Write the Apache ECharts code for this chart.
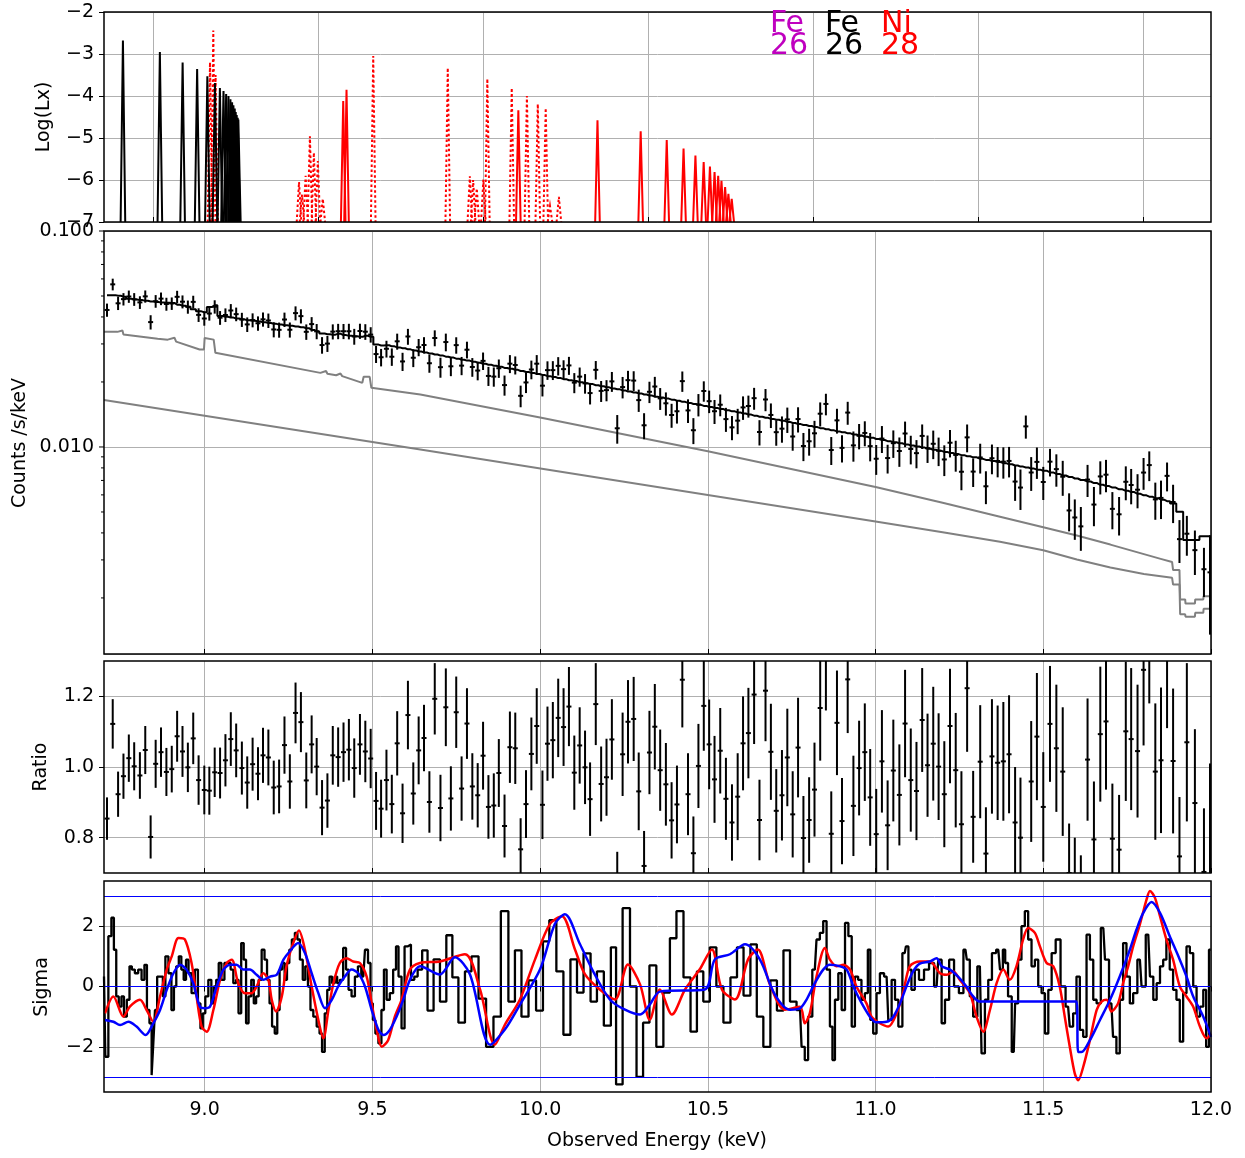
<!DOCTYPE html>
<html>
<head>
<meta charset="utf-8">
<script src="https://cdn.jsdelivr.net/npm/echarts@6/dist/echarts.min.js"></script>
<style>
  html, body { margin: 0; padding: 0; background: #fff; }
  #chart { width: 1245px; height: 1158px; }
</style>
</head>
<body>
<div id="chart"></div>
<script>
// ---------------- axis ranges and tick values ----------------
const energyRange = [8.7, 12.0];          // observed energy (keV)
const restRange = [8.8496, 12.2064];      // rest-frame energy for the line panel
const energyTicks = [9.0, 9.5, 10.0, 10.5, 11.0, 11.5, 12.0];
const lxRange = [-7, -2];
const lxTicks = [-7, -6, -5, -4, -3, -2];
const countRange = [0.0011, 0.1];
const countMajorTicks = [0.01, 0.1];
const countMinorTicks = [0.002, 0.003, 0.004, 0.005, 0.006, 0.007, 0.008, 0.009,
                         0.02, 0.03, 0.04, 0.05, 0.06, 0.07, 0.08, 0.09];
const ratioRange = [0.7, 1.3];
const ratioTicks = [0.8, 1.0, 1.2];
const sigmaRange = [-3.5, 3.5];
const sigmaTicks = [-2, 0, 2];
const sigmaLevels = [-3, 0, 3];

// ---------------- line emissivities, log10(Lx) peak per transition (rest keV) ----------------
const fe26Lines = [
  [8.907, -2.68], [9.019, -2.95], [9.088, -3.20], [9.132, -3.36], [9.163, -3.53],
  [9.186, -3.69], [9.201, -3.81], [9.212, -3.88], [9.220, -3.95], [9.227, -4.00],
  [9.233, -4.08], [9.238, -4.15], [9.242, -4.22], [9.246, -4.30], [9.249, -4.38],
  [9.252, -4.45], [9.255, -4.52], [9.257, -4.56]
];
const ni28Lines = [
  [9.575, -4.12], [9.585, -3.85], [10.106, -4.34], [10.346, -4.58], [10.477, -4.84],
  [10.556, -5.05], [10.607, -5.25], [10.643, -5.42], [10.668, -5.57], [10.687, -5.68],
  [10.701, -5.81], [10.712, -5.90], [10.722, -6.02], [10.733, -6.17], [10.743, -6.33],
  [10.753, -6.45]
];
const ni28SatLines = [
  [9.171, -3.20], [9.181, -2.44], [9.188, -3.50],
  [9.441, -6.05], [9.450, -6.35], [9.461, -5.90], [9.474, -4.96], [9.486, -5.35],
  [9.498, -5.55], [9.513, -6.45], [9.666, -3.05], [9.892, -3.33], [9.959, -5.91],
  [9.969, -6.00], [9.980, -6.20], [10.000, -5.99], [10.012, -3.59], [10.086, -3.81],
  [10.132, -4.00], [10.165, -4.19], [10.189, -4.29], [10.202, -6.62], [10.229, -6.40]
];

// ---------------- spectral bins (observed keV) ----------------
const binEnergy = [
  8.709,8.726,8.742,8.758,8.774,8.790,8.807,8.823,8.839,8.854,
  8.870,8.886,8.902,8.918,8.934,8.950,8.966,8.982,8.999,9.014,
  9.030,9.046,9.062,9.078,9.094,9.111,9.127,9.143,9.159,9.174,
  9.190,9.206,9.222,9.238,9.254,9.271,9.287,9.303,9.319,9.334,
  9.350,9.366,9.382,9.398,9.414,9.430,9.446,9.463,9.479,9.495,
  9.511,9.526,
  9.542,9.558,9.574,9.590,9.606,9.622,9.638,9.654,9.670,9.686,
  9.703,9.719,9.734,9.750,9.766,9.782,9.798,9.814,9.830,9.846,
  9.862,9.877,9.894,9.910,9.926,9.942,9.958,9.974,9.990,10.007,
  10.022,10.038,10.054,10.070,10.086,10.102,10.118,10.134,10.149,10.166,
  10.182,10.198,10.214,10.230,10.246,10.262,10.279,10.294,10.310,10.326,
  10.342,10.358,
  10.375,10.392,10.408,10.424,10.441,10.457,10.472,10.488,10.504,10.520,
  10.537,10.554,10.572,10.589,10.605,10.621,10.638,10.654,10.672,10.688,
  10.704,10.721,10.737,10.753,10.769,10.785,10.802,10.818,10.835,10.852,
  10.868,10.885,10.900,10.917,10.934,10.951,10.968,10.984,11.002,11.019,
  11.036,11.053,11.071,11.088,11.105,11.122,11.139,11.155,11.172,11.188,
  11.205,11.222,11.239,11.256,11.273,11.291,11.312,11.329,11.347,11.364,
  11.381,11.398,11.416,11.432,11.448,11.464,11.481,11.500,11.520,11.539,
  11.558,11.577,11.594,11.612,11.632,11.651,11.670,11.687,11.706,11.726,
  11.746,11.762,11.781,11.799,11.816,11.834,11.851,11.869,11.887,11.906,
  11.928,11.952,11.979,11.997
];

// data / model ratio per bin and its 1-sigma error
const ratio = [
  0.854,1.122,0.923,0.974,1.025,1.002,0.976,1.048,0.802,1.009,
  1.042,0.986,0.994,1.087,1.044,0.999,1.081,0.963,0.935,0.933,
  0.985,0.983,1.019,1.079,1.047,0.997,0.956,1.008,0.981,1.033,
  1.027,0.942,0.945,1.062,0.959,1.153,1.127,0.962,1.064,1.001,
  0.885,0.905,1.033,1.028,1.042,1.049,0.997,1.064,1.044,1.024,
  0.904,0.882,
  0.963,0.895,1.067,0.869,1.147,0.925,1.047,1.082,0.901,1.193,
  0.884,1.169,0.911,1.155,0.939,1.123,0.945,0.920,1.032,0.887,
  0.891,0.983,0.833,1.056,1.053,0.767,0.895,1.037,1.116,0.893,
  1.066,1.076,1.139,1.113,1.171,0.984,1.061,0.999,0.909,1.178,
  0.952,0.971,1.078,0.660,1.036,1.128,1.136,0.931,0.720,1.041,
  1.114,0.991,
  0.951,0.849,0.894,1.247,0.923,0.756,1.003,1.173,1.064,0.965,
  1.046,0.910,0.843,0.916,1.067,1.096,1.205,0.850,1.216,1.043,
  0.876,0.920,1.027,0.866,1.055,0.799,0.850,0.936,1.167,1.310,
  0.811,1.125,0.847,1.248,0.890,0.997,1.042,0.914,0.810,1.016,
  0.835,0.990,0.921,1.123,0.963,0.932,1.133,1.005,1.066,1.001,
  0.923,1.116,0.991,0.838,1.223,0.859,1.015,0.755,1.030,1.012,
  1.016,1.036,0.843,0.800,1.550,0.959,1.086,0.887,1.122,1.053,
  0.987,0.700,0.660,0.610,1.021,0.795,1.093,1.129,0.797,0.766,
  1.101,1.079,1.045,1.275,1.400,0.987,1.019,1.310,1.017,0.747,
  1.070,0.898,0.703,0.680
];
const ratioErr = [
  0.060,0.070,0.064,0.064,0.067,0.068,0.066,0.068,0.061,0.068,
  0.070,0.068,0.066,0.072,0.072,0.070,0.073,0.070,0.069,0.068,
  0.070,0.072,0.074,0.076,0.076,0.075,0.074,0.075,0.075,0.078,
  0.079,0.076,0.076,0.081,0.077,0.086,0.085,0.079,0.082,0.081,
  0.078,0.077,0.083,0.084,0.084,0.087,0.084,0.086,0.087,0.084,
  0.082,0.082,
  0.086,0.083,0.091,0.084,0.097,0.088,0.096,0.094,0.087,0.101,
  0.094,0.110,0.091,0.101,0.091,0.100,0.094,0.091,0.096,0.090,
  0.091,0.096,0.089,0.101,0.101,0.088,0.096,0.103,0.107,0.097,
  0.105,0.108,0.111,0.110,0.112,0.105,0.108,0.104,0.104,0.116,
  0.106,0.109,0.114,0.100,0.118,0.118,0.119,0.110,0.099,0.118,
  0.121,0.115,
  0.117,0.108,0.110,0.135,0.116,0.104,0.119,0.127,0.127,0.123,
  0.121,0.116,0.108,0.123,0.133,0.128,0.140,0.114,0.143,0.136,
  0.118,0.128,0.138,0.122,0.141,0.119,0.121,0.133,0.149,0.150,
  0.120,0.148,0.122,0.152,0.142,0.134,0.138,0.137,0.128,0.145,
  0.127,0.144,0.143,0.152,0.146,0.139,0.147,0.146,0.161,0.151,
  0.150,0.162,0.162,0.150,0.180,0.130,0.160,0.131,0.162,0.162,
  0.168,0.167,0.157,0.170,0.190,0.171,0.180,0.155,0.164,0.180,
  0.182,0.140,0.140,0.140,0.173,0.164,0.191,0.193,0.156,0.155,
  0.197,0.201,0.188,0.214,0.220,0.193,0.206,0.200,0.205,0.168,
  0.224,0.209,0.180,0.330
];

// folded total model per bin, log10(counts/s/keV)
const modelLog = [
  -1.297,-1.297,-1.300,-1.304,-1.314,-1.317,-1.320,-1.323,-1.326,-1.329,
  -1.331,-1.332,-1.333,-1.341,-1.346,-1.351,-1.362,-1.372,-1.376,-1.352,
  -1.344,-1.394,-1.397,-1.401,-1.405,-1.409,-1.413,-1.416,-1.419,-1.423,
  -1.426,-1.430,-1.433,-1.436,-1.439,-1.442,-1.446,-1.450,-1.458,-1.465,
  -1.475,-1.478,-1.480,-1.476,-1.482,-1.485,-1.487,-1.490,-1.485,-1.490,
  -1.526,-1.530,
  -1.529,-1.534,-1.539,-1.543,-1.548,-1.553,-1.558,-1.562,-1.567,-1.572,
  -1.577,-1.582,-1.586,-1.591,-1.596,-1.600,-1.605,-1.610,-1.615,-1.619,
  -1.624,-1.628,-1.634,-1.638,-1.643,-1.648,-1.653,-1.657,-1.662,-1.667,
  -1.672,-1.676,-1.681,-1.686,-1.691,-1.695,-1.700,-1.705,-1.709,-1.714,
  -1.719,-1.724,-1.729,-1.733,-1.738,-1.743,-1.748,-1.752,-1.757,-1.762,
  -1.767,-1.771,
  -1.776,-1.781,-1.786,-1.791,-1.796,-1.801,-1.805,-1.810,-1.815,-1.819,
  -1.824,-1.830,-1.835,-1.840,-1.845,-1.850,-1.855,-1.860,-1.865,-1.870,
  -1.874,-1.879,-1.884,-1.889,-1.894,-1.898,-1.903,-1.908,-1.913,-1.918,
  -1.923,-1.928,-1.932,-1.937,-1.942,-1.947,-1.953,-1.957,-1.963,-1.968,
  -1.973,-1.978,-1.983,-1.988,-1.993,-1.998,-2.003,-2.008,-2.013,-2.018,
  -2.023,-2.028,-2.033,-2.038,-2.043,-2.048,-2.055,-2.060,-2.065,-2.070,
  -2.075,-2.080,-2.086,-2.091,-2.095,-2.100,-2.105,-2.110,-2.118,-2.125,
  -2.132,-2.139,-2.146,-2.153,-2.160,-2.167,-2.175,-2.181,-2.188,-2.196,
  -2.203,-2.209,-2.217,-2.224,-2.230,-2.237,-2.244,-2.251,-2.262,-2.300,
  -2.431,-2.431,-2.413,-2.413
];

// model components, [keV, log10(counts/s/keV)]
const componentUpper = [
  [8.700,-1.467],[8.740,-1.467],[8.742,-1.461],[8.755,-1.461],[8.758,-1.479],
  [8.860,-1.499],[8.890,-1.503],[8.895,-1.494],[8.910,-1.494],[8.915,-1.512],
  [8.985,-1.549],[8.998,-1.549],[9.000,-1.495],[9.027,-1.503],[9.032,-1.564],
  [9.345,-1.657],[9.350,-1.648],[9.362,-1.648],[9.366,-1.661],[9.392,-1.668],
  [9.396,-1.660],[9.405,-1.660],[9.410,-1.672],[9.470,-1.703],[9.474,-1.675],
  [9.492,-1.675],[9.497,-1.726],[9.643,-1.757],[10.000,-1.864],[10.500,-2.020],
  [11.000,-2.185],[11.200,-2.258],[11.371,-2.323],[11.500,-2.372],[11.600,-2.410],
  [11.700,-2.452],[11.800,-2.496],[11.850,-2.518],[11.884,-2.533],
  [11.887,-2.570],[11.906,-2.570],[11.908,-2.706],[11.923,-2.706],[11.924,-2.725],
  [11.952,-2.725],[11.953,-2.706],[11.977,-2.706],[11.978,-2.691],[12.000,-2.691]
];
const componentLower = [
  [8.700,-1.783],[9.643,-2.012],[10.500,-2.222],[11.000,-2.345],[11.200,-2.395],
  [11.371,-2.439],[11.500,-2.478],[11.600,-2.521],[11.700,-2.558],[11.800,-2.588],
  [11.884,-2.606],[11.887,-2.637],[11.906,-2.637],[11.908,-2.775],[11.923,-2.775],
  [11.924,-2.786],[11.952,-2.786],[11.953,-2.768],[11.977,-2.768],[11.978,-2.749],
  [12.000,-2.749]
];

// ---------------- significance traces, [keV, sigma] ----------------
const sigmaFine = [
  [8.700,0.33],[8.708,-2.33],[8.718,1.67],[8.726,2.28],[8.733,1.22],[8.740,-0.33],[8.748,-0.67],
  [8.756,-0.33],[8.763,-1.00],[8.773,-0.44],[8.779,0.67],[8.787,0.56],[8.797,0.44],[8.807,0.56],
  [8.817,0.22],[8.824,0.72],[8.832,-0.78],[8.839,-1.22],[8.845,-2.94],[8.849,-1.89],[8.855,-0.78],
  [8.862,0.33],[8.872,0.33],[8.879,-0.33],[8.887,1.00],[8.897,0.44],[8.905,-0.78],[8.912,0.00],
  [8.919,0.67],[8.927,1.00],[8.934,0.56],[8.941,0.22],[8.948,0.89],[8.956,0.44],[8.966,-0.22],
  [8.976,0.56],[8.984,-0.56],[8.991,-1.39],[8.998,-0.89],[9.006,-0.33],[9.016,0.22],[9.024,-0.56],
  [9.031,0.00],[9.038,0.22],[9.046,0.78],[9.054,0.22],[9.064,0.78],[9.074,0.78],[9.081,0.56],
  [9.090,0.11],[9.097,0.22],[9.105,-0.89],[9.113,1.44],[9.120,0.89],[9.127,-1.22],[9.135,-0.33],
  [9.143,0.22],[9.150,-0.56],[9.157,-0.33],[9.165,0.22],[9.175,1.22],[9.182,0.89],[9.190,0.22],
  [9.197,-0.56],[9.205,-1.33],[9.213,-1.56],[9.220,-0.78],[9.227,0.56],[9.235,0.78],[9.242,0.22],
  [9.249,0.78],[9.256,1.22],[9.264,1.56],[9.274,1.78],[9.279,1.56],[9.289,0.89],[9.296,0.22],
  [9.304,0.67],[9.312,0.00],[9.319,-0.78],[9.329,-1.00],[9.339,-1.33],[9.346,-1.56],[9.354,-2.17],
  [9.362,-0.89],[9.369,-0.11],[9.376,0.33],[9.384,0.11],[9.392,0.33],[9.398,0.11],[9.408,0.22],
  [9.418,1.28],[9.425,0.56],[9.433,-0.11],[9.443,-0.33],[9.453,0.33],[9.461,0.67],[9.473,0.33],
  [9.483,1.22],[9.491,0.78],[9.498,-0.56],[9.505,-1.11],[9.513,-1.56],[9.523,-1.89],[9.531,-0.78],
  [9.538,0.56],[9.547,-0.44],[9.557,-0.22],[9.567,0.56],[9.574,1.33],[9.582,0.33],[9.592,-1.39],
  [9.600,1.33],[9.610,1.39],[9.620,0.22],[9.630,0.33],[9.640,0.56],
  [9.657,1.20],[9.672,-0.80],[9.693,0.90],[9.710,-0.50],[9.731,1.70],[9.746,0.30],[9.767,-1.20],
  [9.785,0.50],[9.806,1.00],[9.827,-0.40],[9.851,-2.00],[9.871,-1.00],[9.895,2.50],[9.916,-0.50],
  [9.934,1.20],[9.955,-1.00],[9.976,0.20],[10.000,-0.80],[10.017,1.50],[10.038,2.20],[10.059,0.50],
  [10.080,-1.60],[10.101,0.90],[10.119,-0.20],[10.140,1.10],[10.161,-0.50],[10.178,0.50],
  [10.202,-1.30],[10.220,1.30],[10.233,-3.25],[10.259,2.60],[10.277,0.00],[10.298,-3.00],
  [10.316,-1.20],[10.336,0.70],[10.357,-2.00],[10.378,-0.20],[10.396,1.60],[10.417,2.50],
  [10.438,0.30],[10.459,-1.50],[10.476,0.50],[10.497,-0.50],[10.515,1.30],[10.536,0.00],
  [10.557,-1.20],[10.578,0.30],[10.596,1.30],[10.617,-0.30],[10.637,1.40],[10.655,-1.00],
  [10.676,-2.00],[10.697,0.20],[10.715,-0.80],[10.736,1.20],[10.754,-0.50],
  [10.775,-0.78],[10.784,-2.00],[10.794,-2.44],[10.804,-1.00],[10.819,0.56],[10.829,1.56],
  [10.839,1.78],[10.849,2.17],[10.859,0.56],[10.869,-1.33],[10.874,-2.44],[10.884,-0.44],
  [10.894,0.44],[10.904,-0.78],[10.914,2.11],[10.924,1.67],[10.934,-1.33],[10.943,0.33],
  [10.953,0.22],[10.963,-0.44],[10.973,-0.22],[10.981,1.22],[10.988,-1.11],[10.998,-1.56],
  [11.008,-0.22],[11.018,0.44],[11.033,0.33],[11.043,-1.11],[11.053,0.22],[11.063,-0.44],
  [11.073,-1.33],[11.087,1.11],[11.094,1.33],[11.102,0.56],[11.112,-0.11],[11.122,0.56],
  [11.137,0.22],[11.152,0.56],[11.167,0.78],[11.182,0.00],[11.192,0.89],[11.202,-1.22],
  [11.212,-0.44],[11.227,0.89],[11.241,0.00],[11.256,-0.22],[11.268,1.22],[11.276,0.89],
  [11.286,-0.33],[11.296,-1.00],[11.311,0.67],[11.321,-2.22],[11.331,-0.44],[11.341,0.22],
  [11.353,1.11],[11.366,1.22],[11.376,0.56],[11.383,1.22],[11.390,0.78],[11.400,-0.33],
  [11.412,-2.17],[11.420,-0.56],[11.430,0.89],[11.440,2.00],[11.450,2.50],[11.460,1.56],
  [11.470,0.67],[11.480,0.89],[11.490,0.00],[11.500,-0.22],[11.510,-1.56],[11.520,-0.11],
  [11.530,1.11],[11.544,1.56],[11.559,0.00],[11.574,-0.67],[11.584,-1.33],[11.594,-0.89],
  [11.604,0.33],[11.614,-1.44],[11.624,-1.67],[11.634,1.72],[11.644,0.89],[11.654,-0.44],
  [11.664,-0.56],[11.679,1.94],[11.689,0.89],[11.703,-0.56],[11.713,-1.67],[11.723,-2.22],
  [11.733,-0.44],[11.743,1.44],[11.753,0.33],[11.763,-0.56],[11.773,-0.22],[11.788,0.89],
  [11.798,0.00],[11.813,1.72],[11.823,0.33],[11.833,-0.44],[11.843,0.11],[11.853,0.67],
  [11.862,0.89],[11.872,1.56],[11.882,0.56],[11.892,-0.11],[11.902,-0.44],[11.912,-1.83],
  [11.922,-0.22],[11.932,1.33],[11.942,1.11],[11.952,0.00],[11.962,-1.00],[11.972,-0.67],
  [11.982,-0.11],[11.989,-2.00],[11.999,1.22]
];
const sigmaRed = [
  [8.703,-0.89],[8.728,-0.33],[8.758,-1.00],[8.777,-0.67],[8.807,-0.44],[8.827,-0.78],
  [8.847,-1.17],[8.867,-0.33],[8.887,0.56],[8.902,1.00],[8.922,1.61],[8.941,1.56],[8.961,0.78],
  [8.976,-0.33],[8.991,-1.33],[9.006,-1.50],[9.026,-0.78],[9.046,0.22],[9.066,0.78],[9.081,0.89],
  [9.100,0.11],[9.120,-0.22],[9.140,-0.22],[9.155,0.00],[9.175,0.44],[9.190,0.22],[9.200,-0.44],
  [9.213,-0.83],[9.230,-0.33],[9.244,0.67],[9.264,1.44],[9.281,1.86],[9.299,1.22],[9.319,0.00],
  [9.339,-1.11],[9.354,-1.72],[9.369,-0.78],[9.384,0.11],[9.403,0.78],[9.423,0.94],[9.443,0.83],
  [9.463,0.78],[9.483,0.33],[9.498,-0.56],[9.513,-1.44],[9.528,-2.00],[9.547,-1.78],[9.567,-1.00],
  [9.587,-0.44],[9.612,0.56],[9.642,0.78],[9.701,0.83],[9.776,1.07],[9.821,-0.10],[9.865,-1.93],
  [9.895,-1.27],[9.940,-0.43],[9.985,0.90],[10.029,2.07],[10.065,2.33],[10.104,1.23],
  [10.134,0.40],[10.178,-0.10],[10.223,-0.43],[10.262,0.73],[10.298,0.07],[10.327,-1.10],
  [10.357,-0.10],[10.393,-0.93],[10.432,-0.10],[10.476,0.57],[10.512,1.23],[10.542,-0.10],
  [10.581,-0.43],[10.620,0.90],[10.649,1.23],[10.685,0.07],[10.730,-0.77],[10.775,-0.67],
  [10.789,-1.22],[10.804,-0.89],[10.824,0.33],[10.849,1.28],[10.864,0.89],[10.884,0.67],
  [10.904,0.72],[10.924,0.56],[10.943,0.00],[10.973,-0.56],[10.988,-1.00],[11.013,-1.22],
  [11.038,-1.33],[11.063,-0.89],[11.082,-0.22],[11.102,0.67],[11.132,0.83],[11.162,0.83],
  [11.192,0.44],[11.212,0.39],[11.232,0.50],[11.251,0.22],[11.281,-0.22],[11.301,-1.00],
  [11.321,-1.50],[11.341,-0.78],[11.361,0.11],[11.381,0.56],[11.400,0.22],[11.420,0.67],
  [11.440,1.56],[11.455,1.94],[11.475,1.78],[11.490,1.33],[11.510,0.78],[11.530,0.67],
  [11.549,0.00],[11.564,-1.00],[11.579,-2.00],[11.594,-2.89],[11.604,-3.11],[11.619,-2.67],
  [11.639,-1.78],[11.659,-0.78],[11.674,-0.50],[11.689,-0.44],[11.703,-0.83],[11.723,-0.56],
  [11.738,0.11],[11.753,0.67],[11.768,1.33],[11.788,2.06],[11.808,2.89],[11.818,3.17],
  [11.833,2.94],[11.848,2.33],[11.867,1.56],[11.887,0.89],[11.907,0.00],[11.927,-0.33],
  [11.947,-0.67],[11.967,-1.33],[11.987,-1.72],[12.000,-1.56]
];
const sigmaBlue = [
  [8.703,-1.11],[8.728,-1.17],[8.748,-1.28],[8.773,-1.17],[8.797,-1.33],[8.824,-1.61],
  [8.847,-1.22],[8.867,-0.78],[8.887,-0.11],[8.907,0.44],[8.927,0.72],[8.946,0.56],[8.966,0.11],
  [8.986,-0.67],[9.001,-0.72],[9.016,-0.67],[9.036,0.00],[9.056,0.56],[9.076,0.72],[9.095,0.72],
  [9.115,0.56],[9.135,0.56],[9.155,0.39],[9.175,0.22],[9.195,0.33],[9.215,0.39],[9.235,0.89],
  [9.254,1.17],[9.279,1.44],[9.299,1.11],[9.319,0.44],[9.339,-0.22],[9.359,-0.72],[9.379,-0.44],
  [9.398,0.00],[9.418,0.33],[9.438,0.56],[9.458,0.44],[9.478,0.00],[9.498,-0.78],[9.518,-1.44],
  [9.533,-1.61],[9.552,-1.44],[9.572,-1.00],[9.592,-0.44],[9.612,0.22],[9.642,0.67],[9.701,0.40],
  [9.746,0.97],[9.791,0.40],[9.851,-1.93],[9.895,-1.43],[9.940,-0.60],[10.000,0.57],
  [10.044,2.07],[10.074,2.40],[10.119,1.40],[10.163,0.40],[10.208,-0.43],[10.253,-0.77],
  [10.298,-0.93],[10.327,-0.60],[10.357,-0.17],[10.491,-0.10],[10.521,0.90],[10.566,1.07],
  [10.611,1.40],[10.655,0.90],[10.700,-0.27],[10.745,-0.77],[10.775,-0.72],[10.794,-0.44],
  [10.819,0.11],[10.844,0.56],[10.864,0.72],[10.894,0.67],[10.914,0.56],[10.934,0.00],
  [10.953,-0.44],[10.983,-1.00],[11.003,-1.19],[11.033,-1.17],[11.053,-1.00],[11.073,-0.56],
  [11.092,0.00],[11.112,0.50],[11.132,0.76],[11.162,0.83],[11.182,0.94],[11.197,0.67],
  [11.222,0.56],[11.246,0.33],[11.271,0.00],[11.291,-0.33],[11.311,-0.50],[11.599,-0.50],
  [11.604,-2.17],[11.614,-2.17],[11.639,-1.78],[11.669,-1.11],[11.699,-0.44],[11.728,0.33],
  [11.758,1.22],[11.778,1.89],[11.798,2.44],[11.823,2.80],[11.848,2.44],[11.877,1.67],
  [11.907,0.89],[11.927,0.33],[11.947,-0.33],[11.977,-1.00],[12.000,-1.67]
];

// ---------------- derived series ----------------
const modelRate = modelLog.map(v => Math.pow(10, v));
const countPoints = binEnergy.map((e, i) => {
  const c = modelRate[i] * ratio[i];
  const d = modelRate[i] * ratioErr[i];
  return [e, c, c - d, c + d];
});
const ratioPoints = binEnergy.map((e, i) => [e, ratio[i], ratio[i] - ratioErr[i], ratio[i] + ratioErr[i]]);
const modelLine = binEnergy.map((e, i) => [e, modelRate[i]]);
const upperLine = componentUpper.map(([e, l]) => [e, Math.pow(10, l)]);
const lowerLine = componentLower.map(([e, l]) => [e, Math.pow(10, l)]);

// ---------------- styling ----------------
const FONT = 'DejaVu Sans';
const GRID_COLOR = '#b0b0b0';
const SPIKE_HW = 0.007;   // half base width of a drawn emission line (keV)
const CAP = 2.5;          // half width of the error-bar crossbar (px)
const grids = [
  { left: 104, top: 12,  width: 1107, height: 210 },
  { left: 104, top: 231, width: 1107, height: 423 },
  { left: 104, top: 661, width: 1107, height: 212 },
  { left: 104, top: 881, width: 1107, height: 211 }
];
const minusFmt = v => (v < 0 ? '\u2212' : '') + Math.abs(v);

function xAxisFor(gridIndex, range, showLabels, inside) {
  return {
    type: 'value', gridIndex, min: range[0], max: range[1],
    minInterval: 0.5, maxInterval: 0.5,
    axisLine: { show: false },
    axisTick: { show: true, inside, length: 5, lineStyle: { color: '#000', width: 1 }, customValues: energyTicks },
    axisLabel: {
      show: showLabels, customValues: energyTicks, margin: 9,
      color: '#000', fontFamily: FONT, fontSize: 19,
      formatter: v => v.toFixed(1)
    },
    splitLine: { show: true, lineStyle: { color: GRID_COLOR, width: 1 } }
  };
}

function linearYAxis(gridIndex, range, ticks, step, fmt) {
  return {
    type: 'value', gridIndex, min: range[0], max: range[1],
    minInterval: step, maxInterval: step,
    axisLine: { show: false },
    axisTick: { show: true, inside: false, length: 5, lineStyle: { color: '#000', width: 1 }, customValues: ticks },
    axisLabel: { customValues: ticks, margin: 10, color: '#000', fontFamily: FONT, fontSize: 19, formatter: fmt },
    splitLine: { show: true, lineStyle: { color: GRID_COLOR, width: 1 } }
  };
}

function spikeSeries(lines, color, dash) {
  return {
    type: 'custom', xAxisIndex: 0, yAxisIndex: 0, clip: true, silent: true, z: 3,
    data: lines,
    renderItem(params, api) {
      const e = api.value(0), peak = api.value(1);
      const a = api.coord([e - SPIKE_HW, lxRange[0]]);
      const b = api.coord([e, peak]);
      const c = api.coord([e + SPIKE_HW, lxRange[0]]);
      return {
        type: 'polyline', shape: { points: [a, b, c] },
        style: { stroke: color, lineWidth: 2, fill: 'none', lineDash: dash || null }
      };
    }
  };
}

function errorBarSeries(xi, yi, items) {
  return {
    type: 'custom', xAxisIndex: xi, yAxisIndex: yi, clip: true, silent: true, z: 6,
    data: items,
    renderItem(params, api) {
      const e = api.value(0), v = api.value(1), lo = api.value(2), hi = api.value(3);
      const p = api.coord([e, v]);
      const pl = api.coord([e, lo]);
      const ph = api.coord([e, hi]);
      return {
        type: 'group',
        children: [
          { type: 'line', shape: { x1: p[0], y1: pl[1], x2: p[0], y2: ph[1] }, style: { stroke: '#000', lineWidth: 2 } },
          { type: 'line', shape: { x1: p[0] - CAP, y1: p[1], x2: p[0] + CAP, y2: p[1] }, style: { stroke: '#000', lineWidth: 2 } }
        ]
      };
    }
  };
}

function logTickSeries(values, len) {
  return {
    type: 'custom', xAxisIndex: 1, yAxisIndex: 1, clip: false, silent: true, z: 10,
    data: values.map(v => [energyRange[0], v]),
    renderItem(params, api) {
      const p = api.coord([api.value(0), api.value(1)]);
      return { type: 'line', shape: { x1: p[0] - len, y1: p[1], x2: p[0], y2: p[1] }, style: { stroke: '#000', lineWidth: 1 } };
    }
  };
}

const chart = echarts.init(document.getElementById('chart'), null, { renderer: 'canvas' });

const frames = grids.map(g => ({
  type: 'rect', z: 100, silent: true,
  shape: { x: g.left, y: g.top, width: g.width, height: g.height },
  style: { fill: 'none', stroke: '#000', lineWidth: 1.5 }
}));

function vTitle(text, x, y) {
  return {
    type: 'text', x, y, rotation: Math.PI / 2, z: 100, silent: true,
    style: { text, fill: '#000', font: '19px "DejaVu Sans"', align: 'center', verticalAlign: 'middle',
             textAlign: 'center', textVerticalAlign: 'middle' }
  };
}
function tag(text, x, y, color) {
  return {
    type: 'text', x, y, z: 100, silent: true,
    style: { text, fill: color, font: '30px "DejaVu Sans"', align: 'left', verticalAlign: 'middle',
             textAlign: 'left', textVerticalAlign: 'middle' }
  };
}

const option = {
  animation: false,
  backgroundColor: '#fff',
  textStyle: { fontFamily: FONT },
  grid: grids.map(g => Object.assign({ containLabel: false }, g)),
  xAxis: [
    xAxisFor(0, restRange, false, true),
    xAxisFor(1, energyRange, false, true),
    xAxisFor(2, energyRange, false, true),
    xAxisFor(3, energyRange, true, false)
  ],
  yAxis: [
    linearYAxis(0, lxRange, lxTicks, 1, minusFmt),
    {
      type: 'log', logBase: 10, gridIndex: 1, min: countRange[0], max: countRange[1],
      axisLine: { show: false },
      axisTick: { show: false },
      axisLabel: { showMinLabel: false, margin: 10, color: '#000', fontFamily: FONT, fontSize: 19,
                   formatter: v => v.toFixed(3) },
      splitLine: { show: true, lineStyle: { color: GRID_COLOR, width: 1 } }
    },
    linearYAxis(2, ratioRange, ratioTicks, 0.2, v => v.toFixed(1)),
    linearYAxis(3, sigmaRange, sigmaTicks, 2, minusFmt)
  ],
  series: [
    // emission-line panel
    spikeSeries(ni28SatLines, '#ff0000', [2.5, 2.5]),
    spikeSeries(ni28Lines, '#ff0000'),
    spikeSeries(fe26Lines, '#000000'),

    // spectrum panel
    { type: 'line', xAxisIndex: 1, yAxisIndex: 1, data: lowerLine, showSymbol: false, silent: true, z: 2,
      lineStyle: { color: '#808080', width: 2 } },
    { type: 'line', xAxisIndex: 1, yAxisIndex: 1, data: upperLine, showSymbol: false, silent: true, z: 2,
      lineStyle: { color: '#808080', width: 2 } },
    { type: 'line', xAxisIndex: 1, yAxisIndex: 1, data: modelLine, step: 'middle', showSymbol: false, silent: true, z: 4,
      lineStyle: { color: '#000', width: 2 } },
    errorBarSeries(1, 1, countPoints),
    logTickSeries(countMajorTicks, 5),
    logTickSeries(countMinorTicks, 3),

    // ratio panel
    errorBarSeries(2, 2, ratioPoints),

    // significance panel
    { type: 'line', xAxisIndex: 3, yAxisIndex: 3, data: sigmaFine, step: 'middle', showSymbol: false, silent: true, z: 3,
      lineStyle: { color: '#000', width: 2.3 },
      markLine: { silent: true, symbol: 'none', label: { show: false },
                  lineStyle: { color: '#0000ff', width: 1, type: 'solid' },
                  data: sigmaLevels.map(v => ({ yAxis: v })) } },
    { type: 'line', xAxisIndex: 3, yAxisIndex: 3, data: sigmaRed, smooth: 0.3, showSymbol: false, silent: true, z: 4,
      lineStyle: { color: '#ff0000', width: 2.5 } },
    { type: 'line', xAxisIndex: 3, yAxisIndex: 3, data: sigmaBlue, smooth: 0.3, showSymbol: false, silent: true, z: 5,
      lineStyle: { color: '#0000ff', width: 2.5 } }
  ],
  graphic: [
    ...frames,
    vTitle('Log(Lx)', 44, 117),
    vTitle('Counts /s/keV', 20, 443),
    vTitle('Ratio', 41, 767),
    vTitle('Sigma', 42, 987),
    { type: 'text', x: 657, y: 1141, z: 100, silent: true,
      style: { text: 'Observed Energy (keV)', fill: '#000', font: '19px "DejaVu Sans"', align: 'center', verticalAlign: 'middle',
               textAlign: 'center', textVerticalAlign: 'middle' } },
    tag('Fe', 770, 24, '#bf00bf'),
    tag('26', 770, 46, '#bf00bf'),
    tag('Fe', 825, 24, '#000000'),
    tag('26', 825, 46, '#000000'),
    tag('Ni', 881, 24, '#ff0000'),
    tag('28', 881, 46, '#ff0000')
  ]
};

chart.setOption(option);
</script>
</body>
</html>
